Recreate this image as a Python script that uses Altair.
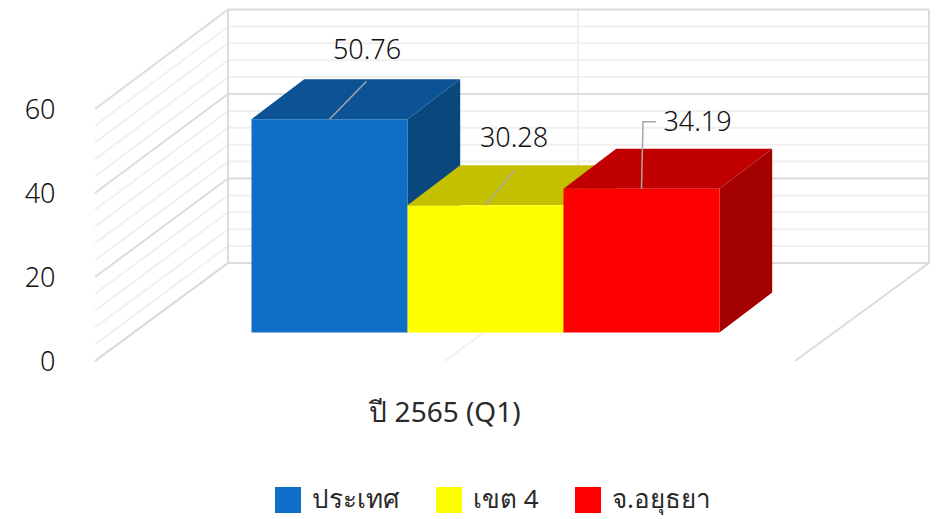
import altair as alt
import pandas as pd

# ---- values
series = ["ประเทศ", "เขต 4", "จ.อยุธยา"]
values = [50.76, 30.28, 34.19]
labels = ["50.76", "30.28", "34.19"]
front_colors = ["#0F6FC6", "#FFFF00", "#FF0000"]
top_colors = ["#0B5395", "#C4C000", "#C00000"]
side_colors = ["#09477C", "#A8A800", "#A30000"]
y_ticks = [0, 20, 40, 60]
category = "ปี 2565 (Q1)"

# ---- scene geometry (x in scene units, y in axis units)
FONT = "Noto Sans"
WEIGHT = 300
INK = "#111111"
SOFT_INK = "#2A2A2A"
PX = 4.2                 # pixels per axis unit on the front plane
Y_TOP, Y_BOTTOM = (361 - 8) / PX, (361 - 518) / PX
WALL_DY = 98 / PX        # rise of the floor from front to back wall
WALL_STRETCH = 253.5 / 252
FRONT_X, BACK_X = [95, 445, 795], [228, 578, 929]
BAR_X0, BAR_W = 251.5, 156
BAR_BASE = 6.8
BAR_DX, BAR_DY = 52.7, 40 / PX
# label centre and leader points, relative to the centre of each bar's top edge (px right, px up)
label_off = [(37.5, 68), (28.5, 66), (56, 65.5)]
leader_off = [[(0, 0), (37, 38)], [(0, 0), (29, 35)], [(0, 0), (1.5, 67), (14.5, 67)]]

xs = alt.Scale(domain=[8, 940], nice=False, zero=False)
ys = alt.Scale(domain=[Y_BOTTOM, Y_TOP], nice=False, zero=False)
y_axis = alt.Axis(values=y_ticks, title=None, domain=False, ticks=False, grid=False,
                  labelFontSize=27, labelFont=FONT, labelFontWeight=WEIGHT, labelColor=INK,
                  labelPadding=0, labelOffset=1.5, offset=-47)
X = alt.X("x:Q", scale=xs, axis=None)
Y = alt.Y("y:Q", scale=ys, axis=y_axis)


def back(v):
    return v * WALL_STRETCH + WALL_DY


def poly(rows, color):
    df = pd.DataFrame(rows, columns=["g", "x", "y", "k"])
    return (
        alt.Chart(df)
        .mark_line(color=color, strokeWidth=2, strokeCap="butt")
        .encode(x=X, y=Y, detail="g:N", order="k:Q")
    )


def vert_layer(xvals, color):
    df = pd.DataFrame({"x": xvals, "y": [back(0)] * len(xvals), "y2": [back(60)] * len(xvals)})
    return alt.Chart(df).mark_rule(color=color, strokeWidth=2).encode(x=X, y=Y, y2="y2:Q")


minor_rows, major_rows = [], []
for v in range(0, 61, 4):
    rows = major_rows if v % 20 == 0 else minor_rows
    rows += [
        (f"l{v}", FRONT_X[0], v, 0), (f"l{v}", BACK_X[0], back(v), 1),
        (f"l{v}", BACK_X[2], back(v), 2),
    ]
for i, (fx, bx) in enumerate(zip(FRONT_X, BACK_X)):
    rows = minor_rows if i == 1 else major_rows
    rows += [(f"f{i}", fx, 0, 0), (f"f{i}", bx, back(0), 1)]

layers = [poly(minor_rows, "#F0F0F0"), vert_layer([BACK_X[1]], "#F0F0F0"),
          poly(major_rows, "#DCDCDC"), vert_layer([BACK_X[0], BACK_X[2]], "#DCDCDC")]

# 3D bars: for each series, side and top faces then the front face
for i, (name, val) in enumerate(zip(series, values)):
    x0 = BAR_X0 + i * BAR_W
    x1 = x0 + BAR_W
    top = val + BAR_BASE
    side = pd.DataFrame({"x": [x1, x1 + BAR_DX], "y": [top, top + BAR_DY],
                         "y2": [BAR_BASE, BAR_BASE + BAR_DY]})
    roof = pd.DataFrame({"y": [top, top + BAR_DY], "x": [x0, x0 + BAR_DX], "x2": [x1, x1 + BAR_DX]})
    front = pd.DataFrame({"series": [name], "x": [x0], "x2": [x1], "y": [top], "y2": [BAR_BASE]})
    layers.append(alt.Chart(side).mark_area(color=side_colors[i], opacity=1).encode(x=X, y=Y, y2="y2:Q"))
    layers.append(
        alt.Chart(roof).mark_area(color=top_colors[i], orient="horizontal", opacity=1)
        .encode(y=Y, x=X, x2="x2:Q")
    )
    layers.append(
        alt.Chart(front).mark_rect(opacity=1)
        .encode(
            x=X, x2="x2:Q", y=Y, y2="y2:Q",
            color=alt.Color(
                "series:N",
                scale=alt.Scale(domain=series, range=front_colors),
                legend=alt.Legend(
                    orient="none", legendX=267, legendY=479, direction="horizontal", title=None,
                    symbolType="square", symbolSize=676, symbolStrokeWidth=0, symbolOpacity=1,
                    labelFont=FONT, labelFontSize=26, labelColor=SOFT_INK,
                    labelOffset=11, columnPadding=36, labelLimit=300,
                ),
            ),
        )
    )

# leader lines and data labels
leader_rows, text_rows = [], []
for i, val in enumerate(values):
    cx = BAR_X0 + (i + 0.5) * BAR_W
    ty = val + BAR_BASE
    for k, (dx, dy) in enumerate(leader_off[i]):
        leader_rows.append((f"d{i}", cx + dx, ty + dy / PX, k))
    text_rows.append({"x": cx + label_off[i][0], "y": ty + label_off[i][1] / PX, "t": labels[i]})
leader_df = pd.DataFrame(leader_rows, columns=["g", "x", "y", "k"])
layers.append(
    alt.Chart(leader_df).mark_line(color="#A6A6A6", strokeWidth=1.5)
    .encode(x=X, y=Y, detail="g:N", order="k:Q")
)
layers.append(
    alt.Chart(pd.DataFrame(text_rows))
    .mark_text(font=FONT, fontWeight=WEIGHT, fontSize=27, color=INK, baseline="middle", align="center")
    .encode(x=X, y=Y, text="t:N")
)
# category label under the floor
layers.append(
    alt.Chart(pd.DataFrame({"x": [(FRONT_X[0] + FRONT_X[2]) / 2], "y": [-12.6], "t": [category]}))
    .mark_text(font=FONT, fontSize=28, color=SOFT_INK, baseline="middle", align="center")
    .encode(x=X, y=Y, text="t:N")
)

chart = (
    alt.layer(*layers)
    .resolve_scale(color="shared")
    .properties(width=932, height=510, padding=0, autosize=alt.AutoSizeParams(type="none"))
    .configure_view(stroke=None)
)
chart.save("out.html", embed_options={"renderer": "svg", "actions": False})
